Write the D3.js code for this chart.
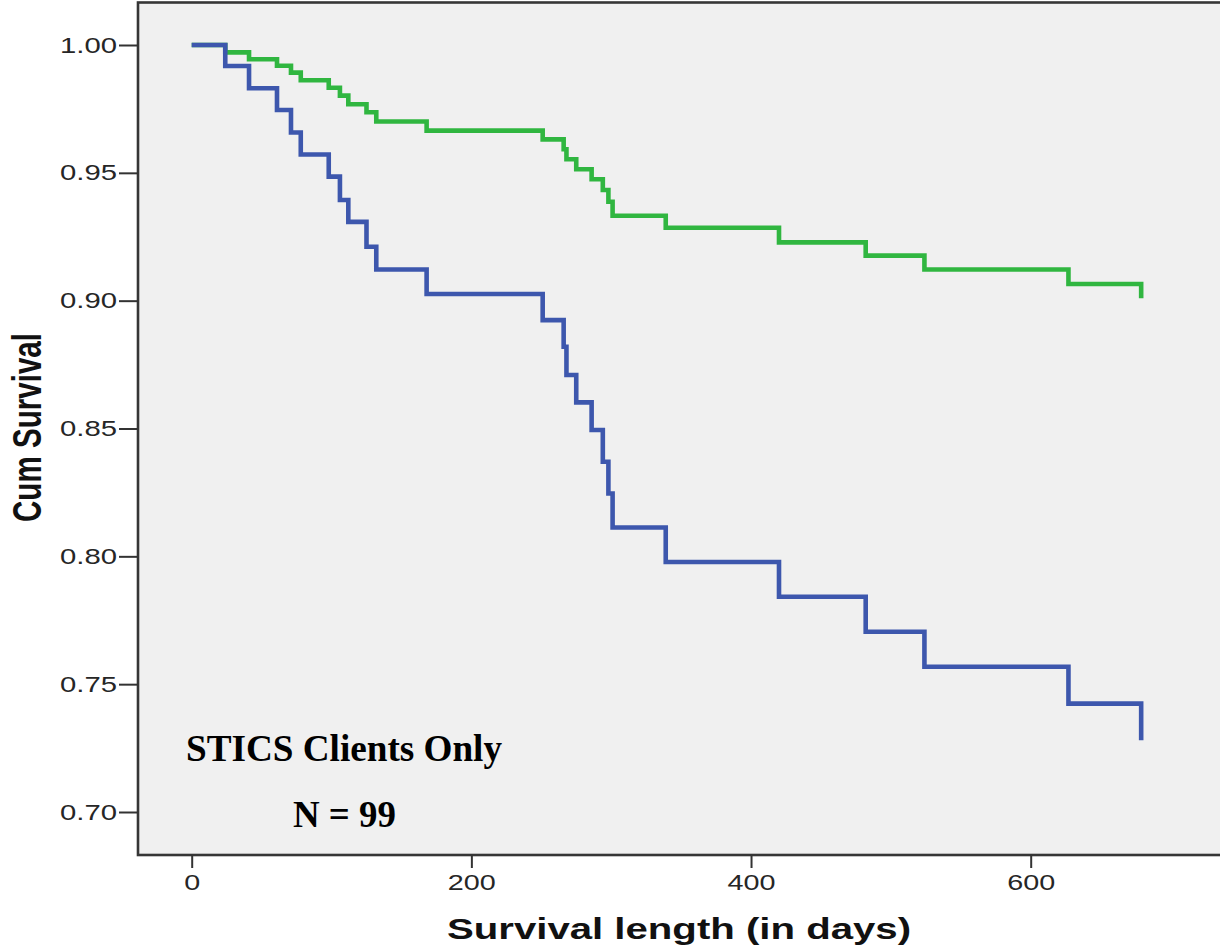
<!DOCTYPE html>
<html>
<head>
<meta charset="utf-8">
<script src="https://cdn.jsdelivr.net/npm/d3@7"></script>
<style>
  html, body { margin: 0; padding: 0; background: #ffffff; }
  svg { display: block; }
</style>
</head>
<body>
<svg id="chart" width="1220" height="952"></svg>
<script>
// Kaplan-Meier survival estimates, days since start
const eventDays = [0, 24, 41, 61, 71, 78, 98, 106, 112, 125, 132, 168, 251, 266, 268, 275, 286, 294, 298, 301, 339, 420, 482, 524, 627, 679];
const survivalBlue = [1.000, 0.9918, 0.9831, 0.9746, 0.9658, 0.9572, 0.9485, 0.9394, 0.9308, 0.9211, 0.9122, 0.9026, 0.8924, 0.8820, 0.8709, 0.8602, 0.8494, 0.8370, 0.8246, 0.8113, 0.7978, 0.7842, 0.7705, 0.7568, 0.7424, 0.7281];
const survivalGreen = [1.000, 0.9971, 0.9944, 0.9919, 0.9892, 0.9862, 0.9833, 0.9802, 0.9768, 0.9737, 0.9701, 0.9665, 0.9631, 0.9592, 0.9553, 0.9514, 0.9475, 0.9433, 0.9387, 0.9332, 0.9285, 0.9228, 0.9176, 0.9122, 0.9065, 0.9009];

const xTickValues = [0, 200, 400, 600];
const yTickValues = [0.70, 0.75, 0.80, 0.85, 0.90, 0.95, 1.00];

const yAxisTitle = "Cum Survival";
const xAxisTitle = "Survival length (in days)";
const noteLines = ["STICS Clients Only", "N = 99"];

const svg = d3.select("#chart");

const frame = { left: 138, top: 2.5, bottom: 855 };
const x = d3.scaleLinear().domain([0, 600]).range([191.7, 1030.7]);
const y = d3.scaleLinear().domain([0.70, 1.00]).range([812, 45]);

// plot panel (extends past the right edge)
svg.append("rect")
  .attr("x", frame.left)
  .attr("y", frame.top)
  .attr("width", 1300 - frame.left)
  .attr("height", frame.bottom - frame.top)
  .attr("fill", "#f0f0f0")
  .attr("stroke", "#363636")
  .attr("stroke-width", 2.6);

// y axis
const yAxis = svg.append("g")
  .attr("transform", `translate(${frame.left},0)`)
  .call(d3.axisLeft(y).tickValues(yTickValues).tickSize(19).tickPadding(2).tickFormat(d3.format(".2f")));
yAxis.select(".domain").remove();
yAxis.selectAll(".tick line").attr("stroke", "#333").attr("stroke-width", 2);
yAxis.selectAll(".tick text")
  .attr("font-family", "'Liberation Sans', Arial, sans-serif")
  .attr("font-size", 22)
  .attr("fill", "#262626")
  .attr("textLength", 57)
  .attr("lengthAdjust", "spacingAndGlyphs");

// x axis
const xAxis = svg.append("g")
  .attr("transform", `translate(0,${frame.bottom})`)
  .call(d3.axisBottom(x).tickValues(xTickValues).tickSize(13).tickPadding(6).tickFormat(d3.format("d")));
xAxis.select(".domain").remove();
xAxis.selectAll(".tick line").attr("stroke", "#333").attr("stroke-width", 2);
xAxis.selectAll(".tick text")
  .attr("font-family", "'Liberation Sans', Arial, sans-serif")
  .attr("font-size", 22)
  .attr("fill", "#262626")
  .attr("textLength", d => d === 0 ? 16 : 48)
  .attr("lengthAdjust", "spacingAndGlyphs");

// axis titles
svg.append("text")
  .attr("transform", "translate(41,427.5) rotate(-90)")
  .attr("text-anchor", "middle")
  .attr("font-family", "'Liberation Sans', Arial, sans-serif")
  .attr("font-weight", "bold")
  .attr("font-size", 40)
  .attr("fill", "#111")
  .attr("textLength", 189)
  .attr("lengthAdjust", "spacingAndGlyphs")
  .text(yAxisTitle);

svg.append("text")
  .attr("x", 679)
  .attr("y", 939)
  .attr("text-anchor", "middle")
  .attr("font-family", "'Liberation Sans', Arial, sans-serif")
  .attr("font-weight", "bold")
  .attr("font-size", 29)
  .attr("fill", "#111")
  .attr("textLength", 464)
  .attr("lengthAdjust", "spacingAndGlyphs")
  .text(xAxisTitle);

// survival step curves
const line = d3.line()
  .x(d => x(d[0]))
  .y(d => y(d[1]))
  .curve(d3.curveStepAfter);

const series = [
  { values: survivalGreen, color: "#30b640" },
  { values: survivalBlue, color: "#3d57ad" }
];

svg.append("g")
  .selectAll("path")
  .data(series)
  .join("path")
  .attr("d", s => line(eventDays.map((t, i) => [t, s.values[i]])))
  .attr("fill", "none")
  .attr("stroke", s => s.color)
  .attr("stroke-width", 4.6)
  .attr("stroke-linejoin", "miter")
  .attr("stroke-linecap", "butt");

// annotation
svg.append("text")
  .attr("x", 186)
  .attr("y", 761)
  .attr("font-family", "'Liberation Serif', 'Times New Roman', serif")
  .attr("font-weight", "bold")
  .attr("font-size", 37)
  .attr("fill", "#000")
  .attr("textLength", 316)
  .attr("lengthAdjust", "spacingAndGlyphs")
  .text(noteLines[0]);

svg.append("text")
  .attr("x", 293)
  .attr("y", 827)
  .attr("font-family", "'Liberation Serif', 'Times New Roman', serif")
  .attr("font-weight", "bold")
  .attr("font-size", 37)
  .attr("fill", "#000")
  .attr("textLength", 103)
  .attr("lengthAdjust", "spacingAndGlyphs")
  .text(noteLines[1]);
</script>
</body>
</html>
